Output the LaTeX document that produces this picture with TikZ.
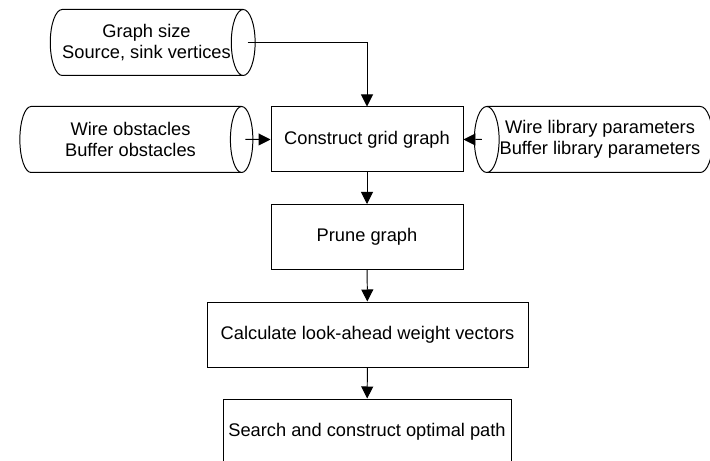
\documentclass[tikz,border=0pt]{standalone}
\usepackage{fontspec}
\setmainfont{Liberation Sans}
\usetikzlibrary{shapes.geometric,arrows.meta}

\tikzset{
    stage/.style={draw, rectangle, line width=0.7pt, minimum height=1.625cm, align=center, inner sep=0pt},
    store/.style={draw, cylinder, line width=0.7pt, shape aspect=0.65, minimum width=1.65cm, align=center, inner sep=0pt},
    flow/.style={line width=0.7pt, -{Triangle[width=0.3cm,length=0.3cm]}},
}

\begin{document}
\begin{tikzpicture}[font=\fontsize{13}{15}\selectfont]
    \useasboundingbox (0, 0) rectangle (17.75, 11.525);

    % input data
    \node[store, minimum height=5.025cm] (srcsink) at (3.6625, 10.4625) {Graph size\\Source, sink vertices};
    \node[store, minimum height=5.825cm] (obstacles) at (3.2625, 8.0375) {Wire obstacles\\Buffer obstacles};
    \node[store, minimum height=5.825cm, shape border rotate=180] (libparams) at (15.0, 8.0375) {Wire library parameters\\Buffer library parameters};

    % processing steps
    \node[stage, minimum width=4.8cm] (construct) at (9.175, 8.0375) {Construct grid graph};
    \node[stage, minimum width=4.8cm] (prune) at (9.175, 5.6) {Prune graph};
    \node[stage, minimum width=8.025cm] (lookahead) at (9.1875, 3.1625) {Calculate look-ahead weight vectors};
    \node[stage, minimum width=7.2cm] (search) at (9.175, 0.7375) {Search and construct optimal path};

    \draw[flow] ([xshift=-0.2cm]srcsink.east) -| (construct.north);
    \draw[flow] ([xshift=-0.2cm]obstacles.east) -- (construct.west);
    \draw[flow] ([xshift=0.2cm]libparams.west) -- (construct.east);
    \draw[flow] (construct) -- (prune);
    \draw[flow] (prune) -- (lookahead);
    \draw[flow] (lookahead) -- (search);
\end{tikzpicture}
\end{document}
